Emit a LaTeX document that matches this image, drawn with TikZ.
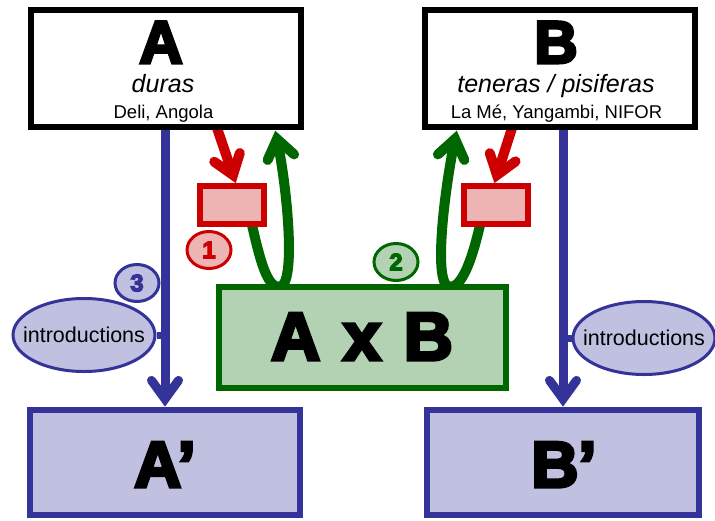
\documentclass[tikz,border=0pt]{standalone}
\usepackage{fontspec}
\setmainfont{Liberation Sans}
\newfontfamily\heavyfont[BoldFeatures={FakeBold=5}]{Liberation Sans}
\usetikzlibrary{arrows.meta,shapes.geometric,calc,backgrounds}
\definecolor{redline}{HTML}{CC0000}
\definecolor{redfill}{HTML}{EEB4B4}
\definecolor{greenline}{HTML}{006600}
\definecolor{greenfill}{HTML}{B3D1B3}
\definecolor{blueline}{HTML}{333399}
\definecolor{bluefill}{HTML}{C0C0E0}
\newcommand{\fsz}[1]{\fontsize{#1}{#1}\selectfont}
% chevron arrow head: colour, width, tip point, point it comes from
\newcommand{\chevhead}[4]{%
  \draw[draw=#1,line width=#2,line cap=round,line join=miter,miter limit=10]
    ($(#3)!23pt!36:(#4)$) -- (#3) -- ($(#3)!23pt!-36:(#4)$);}
\begin{document}
\begin{tikzpicture}[x=1pt,y=-1pt,
  topbox/.style={draw=black,fill=white,line width=6pt,minimum width=270pt,minimum height=117pt,inner sep=0pt},
  redbox/.style={draw=redline,fill=redfill,line width=6pt,minimum width=64pt,minimum height=38pt,inner sep=0pt},
  greenbox/.style={draw=greenline,fill=greenfill,line width=6pt,minimum width=287pt,minimum height=101pt,inner sep=0pt},
  bluebox/.style={draw=blueline,fill=bluefill,line width=6pt,minimum height=105pt,inner sep=0pt},
  introell/.style={ellipse,draw=blueline,fill=bluefill,line width=3pt,minimum width=142pt,minimum height=73pt,inner sep=0pt},
  introtxt/.style={inner sep=0pt,font=\fsz{21.5}},
  numcirc/.style={ellipse,line width=3pt,minimum width=44pt,minimum height=37pt,inner sep=0pt},
  numtxt/.style={inner sep=0pt,font=\heavyfont\bfseries\fsz{24}},
  bigtxt/.style={anchor=base,inner sep=0pt,font=\heavyfont\bfseries\fsz{#1}},
  subtxt/.style={anchor=base,inner sep=0pt,font=\itshape\fsz{25}},
  loctxt/.style={anchor=base,inner sep=0pt,font=\fsz{18.5}},
  redthick/.style={draw=redline,line width=10pt},
  greenthick/.style={draw=greenline,line width=10pt},
  bluethick/.style={draw=blueline,line width=9pt}
]
\useasboundingbox (0,0) rectangle (715,520);

% top boxes
\node[topbox] (A) at (166,68.5) {};
\node[topbox] (B) at (560,68.5) {};
\node[bigtxt=60] (At) at (161,63) {A};
\node[subtxt] (As) at (163,92) {duras};
\node[loctxt] (Al) at (163.5,118) {Deli, Angola};
\node[bigtxt=60] (Bt) at (556,63) {B};
\node[subtxt] (Bs) at (556,92) {teneras / pisiferas};
\node[loctxt] (Bl) at (556.5,118) {La Mé, Yangambi, NIFOR};

% red boxes
\node[redbox] (rl) at (232,205) {};
\node[redbox] (rr) at (496,205) {};

% cross box
\node[greenbox] (axb) at (362.5,337.5) {};
\node[bigtxt=68] (axbt) at (362,360) {A\hspace{4pt} x\hspace{4pt} B};

% bottom boxes
\node[bluebox,minimum width=270pt] (Ap) at (165,462.5) {};
\node[bluebox,minimum width=272pt] (Bp) at (563,462.5) {};
\node[bigtxt=65] (Apt) at (165,487) {A’};
\node[bigtxt=65] (Bpt) at (564,487) {B’};

% ellipses
\node[introell] (il) at (84,335) {};
\node[introtxt] (ilt) at (il.center) {introductions};
\node[introell] (ir) at (644,338) {};
\node[introtxt] (irt) at (ir.center) {introductions};

% number circles
\node[numcirc,draw=redline,fill=redfill] (n1) at (209,250) {};
\node[numtxt,text=redline] (n1t) at (n1.center) {1};
\node[numcirc,draw=greenline,fill=greenfill] (n2) at (396,262) {};
\node[numtxt,text=greenline] (n2t) at (n2.center) {2};
\node[numcirc,draw=blueline,fill=bluefill] (n3) at (137,283) {};
\node[numtxt,text=blueline] (n3t) at (n3.center) {3};

% connector points
\coordinate (ul) at ($(axb.north west)+(63,3)$);
\coordinate (ur) at ($(axb.north east)+(-59,3)$);
\coordinate (rs1) at ($(A.south)+(51,-2)$);
\coordinate (re1) at ($(rl.north)+(1,-8)$);
\coordinate (rs2) at ($(B.south)+(-48,-2)$);
\coordinate (re2) at ($(rr.north)+(1,-8)$);
\coordinate (ge1) at ($(A.south)+(111,9)$);
\coordinate (gc1) at ($(ge1)+(10,47)$);
\coordinate (ge2) at ($(B.south)+(-105,9)$);
\coordinate (gc2) at ($(ge2)+(-10,47)$);
\coordinate (be1) at ($(Ap.north)+(0,-8)$);
\coordinate (bs1) at ($(Ap.north |- A.south)+(0,-2)$);
\coordinate (be2) at ($(Bp.north)+(0,-8)$);
\coordinate (bs2) at ($(Bp.north |- B.south)+(0,-2)$);

\begin{scope}[on background layer]
  % red arrows
  \draw[redthick] (rs1) -- (re1);
  \chevhead{redline}{10pt}{re1}{rs1}
  \draw[redthick] (rs2) -- (re2);
  \chevhead{redline}{10pt}{re2}{rs2}
  % green loops
  \draw[greenthick] ($(rl.south)+(20,-2)$) .. controls +(8,35) and +(-12,0) .. (ul);
  \draw[greenthick] (ul) .. controls +(18,0) and (gc1) .. (ge1);
  \chevhead{greenline}{10pt}{ge1}{gc1}
  \draw[greenthick] ($(rr.south)+(-16,-2)$) .. controls +(-8,35) and +(12,0) .. (ur);
  \draw[greenthick] (ur) .. controls +(-18,0) and (gc2) .. (ge2);
  \chevhead{greenline}{10pt}{ge2}{gc2}
  % blue arrows
  \draw[bluethick] (bs1) -- (be1);
  \chevhead{blueline}{9pt}{be1}{bs1}
  \draw[bluethick] (bs2) -- (be2);
  \chevhead{blueline}{9pt}{be2}{bs2}
  \draw[draw=blueline,line width=7pt] (il.east) -- (il.east -| Ap.north);
  \draw[draw=blueline,line width=7pt] (ir.west) -- (ir.west -| Bp.north);
\end{scope}
\end{tikzpicture}
\end{document}
